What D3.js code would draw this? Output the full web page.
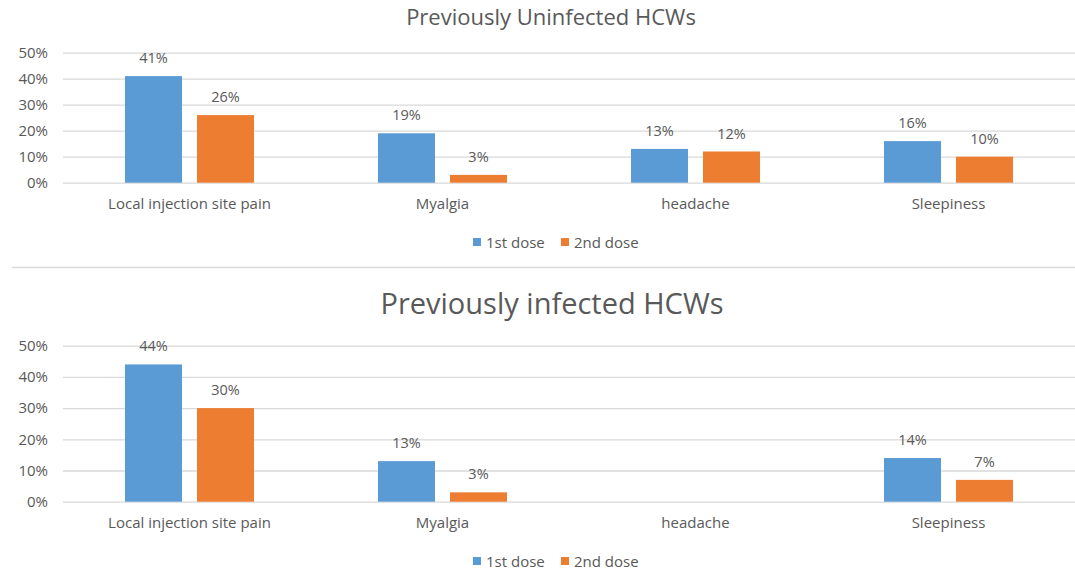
<!DOCTYPE html>
<html>
<head>
<meta charset="utf-8">
<script src="https://cdn.jsdelivr.net/npm/d3@7"></script>
<style>
  body { margin: 0; background: #fff; }
  text { font-family: "Open Sans", "Noto Sans", sans-serif; fill: #595959; }
</style>
</head>
<body>
<div class="canvas"></div>
<script>
const width = 1075;
const height = 588;

// data
const categories = ["Local injection site pain", "Myalgia", "headache", "Sleepiness"];
const seriesNames = ["1st dose", "2nd dose"];
const uninfected1st = [41, 19, 13, 16];
const uninfected2nd = [26, 3, 12, 10];
const infected1st = [44, 13, null, 14];
const infected2nd = [30, 3, null, 7];
const yTicks = [0, 10, 20, 30, 40, 50];

const colors = ["#5B9BD5", "#ED7D31"];

const svg = d3.select(".canvas")
  .append("svg")
  .attr("width", width)
  .attr("height", height);

// shared x scales
const x0 = d3.scaleBand()
  .domain(categories)
  .range([63, 1075]);

const groupWidth = 129;
const x1 = d3.scaleBand()
  .domain(seriesNames)
  .range([0, groupWidth])
  .paddingInner(0.2083);

const groupOffset = (x0.bandwidth() - groupWidth) / 2;

function drawChart(opts) {
  const g = svg.append("g");

  const y = d3.scaleLinear()
    .domain([0, 50])
    .range([opts.zeroY, opts.topY]);

  // title
  g.append("text")
    .attr("x", opts.titleX)
    .attr("y", opts.titleY)
    .attr("text-anchor", "middle")
    .style("font-size", opts.titleSize + "px")
    .text(opts.title);

  // gridlines + y labels via axis
  const yAxis = d3.axisLeft(y)
    .tickValues(yTicks)
    .tickSize(-(1075 - 63))
    .tickPadding(15)
    .tickFormat(d => d + "%");

  const ya = g.append("g")
    .attr("transform", "translate(63,0)")
    .call(yAxis);
  ya.select(".domain").remove();
  ya.selectAll(".tick line").attr("stroke", "#D9D9D9").attr("stroke-width", 1.3);
  ya.selectAll(".tick text")
    .style("font-size", "15px")
    .attr("fill", "#595959");

  // category labels
  const xAxis = d3.axisBottom(x0).tickSize(0).tickPadding(16);
  const xa = g.append("g")
    .attr("transform", `translate(0,${opts.zeroY})`)
    .call(xAxis);
  xa.select(".domain").remove();
  xa.selectAll(".tick text")
    .style("font-size", "15px")
    .attr("fill", "#595959");

  // bars
  const rows = categories.map((c, i) => ({
    cat: c,
    values: opts.series.map((s, j) => ({ name: seriesNames[j], value: s[i] }))
  }));

  const groups = g.selectAll(".grp")
    .data(rows)
    .enter()
    .append("g")
    .attr("class", "grp")
    .attr("transform", d => `translate(${x0(d.cat) + groupOffset},0)`);

  const cells = groups.selectAll(".cell")
    .data(d => d.values.filter(v => v.value != null))
    .enter()
    .append("g");

  cells.append("rect")
    .attr("x", d => x1(d.name))
    .attr("y", d => y(d.value))
    .attr("width", x1.bandwidth())
    .attr("height", d => y(0) - y(d.value))
    .attr("fill", d => colors[seriesNames.indexOf(d.name)]);

  cells.append("text")
    .attr("x", d => x1(d.name) + x1.bandwidth() / 2)
    .attr("y", d => y(d.value) - 13)
    .attr("text-anchor", "middle")
    .style("font-size", "14.5px")
    .attr("fill", "#404040")
    .text(d => d.value + "%");

  // legend
  const leg = g.append("g")
    .attr("transform", `translate(473,${opts.legendY})`);
  const items = [0, 88];
  seriesNames.forEach((s, i) => {
    leg.append("rect")
      .attr("x", items[i])
      .attr("y", -4)
      .attr("width", 8)
      .attr("height", 8)
      .attr("fill", colors[i]);
    leg.append("text")
      .attr("x", items[i] + 13)
      .attr("y", 5.5)
      .style("font-size", "15px")
      .text(s);
  });
}

drawChart({
  title: "Previously Uninfected HCWs",
  titleX: 551, titleY: 24.5, titleSize: 22,
  zeroY: 182.7, topY: 52.7,
  legendY: 242,
  series: [uninfected1st, uninfected2nd]
});

// separator between the two charts
svg.append("line")
  .attr("x1", 12).attr("x2", 1075)
  .attr("y1", 267.5).attr("y2", 267.5)
  .attr("stroke", "#D9D9D9")
  .attr("stroke-width", 1.5);

drawChart({
  title: "Previously infected HCWs",
  titleX: 552, titleY: 314, titleSize: 29,
  zeroY: 501.7, topY: 345.7,
  legendY: 561,
  series: [infected1st, infected2nd]
});
</script>
</body>
</html>
